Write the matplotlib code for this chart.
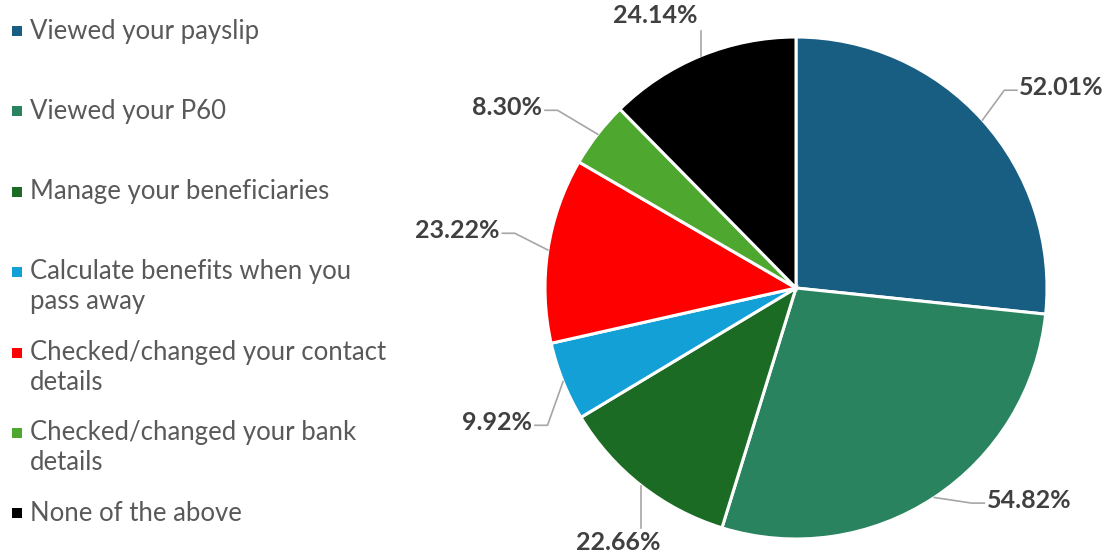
import matplotlib
matplotlib.use("Agg")
from matplotlib import pyplot as plt
from matplotlib.patches import Rectangle
import numpy as np

plt.rcParams['font.family'] = ['Lato', 'DejaVu Sans']

categories = [
    "Viewed your payslip",
    "Viewed your P60",
    "Manage your beneficiaries",
    "Calculate benefits when you\npass away",
    "Checked/changed your contact\ndetails",
    "Checked/changed your bank\ndetails",
    "None of the above",
]
values = [52.01, 54.82, 22.66, 9.92, 23.22, 8.30, 24.14]
labels = ["52.01%", "54.82%", "22.66%", "9.92%", "23.22%", "8.30%", "24.14%"]

colors = ["#175E82", "#28835E", "#1B6B25", "#12A0D6", "#FF0000", "#4EA72E", "#000000"]

# label placement (data units, pie radius = 1) and alignment
label_pos = [(0.89, 0.80), (0.76, -0.845), (-0.71, -1.015), (-1.05, -0.535),
             (-1.18, 0.23), (-1.01, 0.72), (-0.56, 1.085)]
label_ha = ["left", "left", "center", "right", "right", "right", "center"]

fig = plt.figure(figsize=(11.16, 5.59), dpi=100)
# square axes box in pixels: centre (796, 288), radius 251
W, H = 1116, 559
cx, cy, r = 796, 288, 251
ax = fig.add_axes([(cx - r) / W, (H - cy - r) / H, 2 * r / W, 2 * r / H])

wedges, _ = ax.pie(values, colors=colors, startangle=90, counterclock=False,
                   radius=1, wedgeprops=dict(edgecolor="white", linewidth=2.2))
ax.set_xlim(-1, 1)
ax.set_ylim(-1, 1)
ax.axis("off")

line_col = "#A6A6A6"
for w, lab, (tx, ty), ha in zip(wedges, labels, label_pos, label_ha):
    mid = np.deg2rad((w.theta1 + w.theta2) / 2)
    ex, ey = np.cos(mid), np.sin(mid)
    if ha == "center":
        end_y = ty + (0.06 if ty < 0 else -0.06)
        ax.plot([ex, ex], [ey, end_y], color=line_col, lw=1.2, clip_on=False)
    else:
        s = 1 if ha == "left" else -1
        ly = ty - 0.012
        ax.plot([ex, tx - s * 0.06, tx - s * 0.01], [ey, ly, ly],
                color=line_col, lw=1.2, clip_on=False)
    ax.text(tx, ty, lab, ha=ha, va="center", fontsize=18, fontweight="bold",
            color="#404040", clip_on=False)

# legend drawn in figure pixels
for i, (cat, col) in enumerate(zip(categories, colors)):
    y = 31 + i * 80.4
    fig.patches.append(Rectangle((12 / W, 1 - (y + 5) / H), 10 / W, 10 / H,
                                 transform=fig.transFigure, facecolor=col,
                                 edgecolor="none"))
    if "\n" in cat:
        fig.text(30 / W, 1 - (y - 13) / H, cat, ha="left", va="top",
                 fontsize=18.5, color="#595959", linespacing=1.25)
    else:
        fig.text(30 / W, 1 - y / H, cat, ha="left", va="center",
                 fontsize=18.5, color="#595959")

fig.savefig("out.png", dpi=100)
